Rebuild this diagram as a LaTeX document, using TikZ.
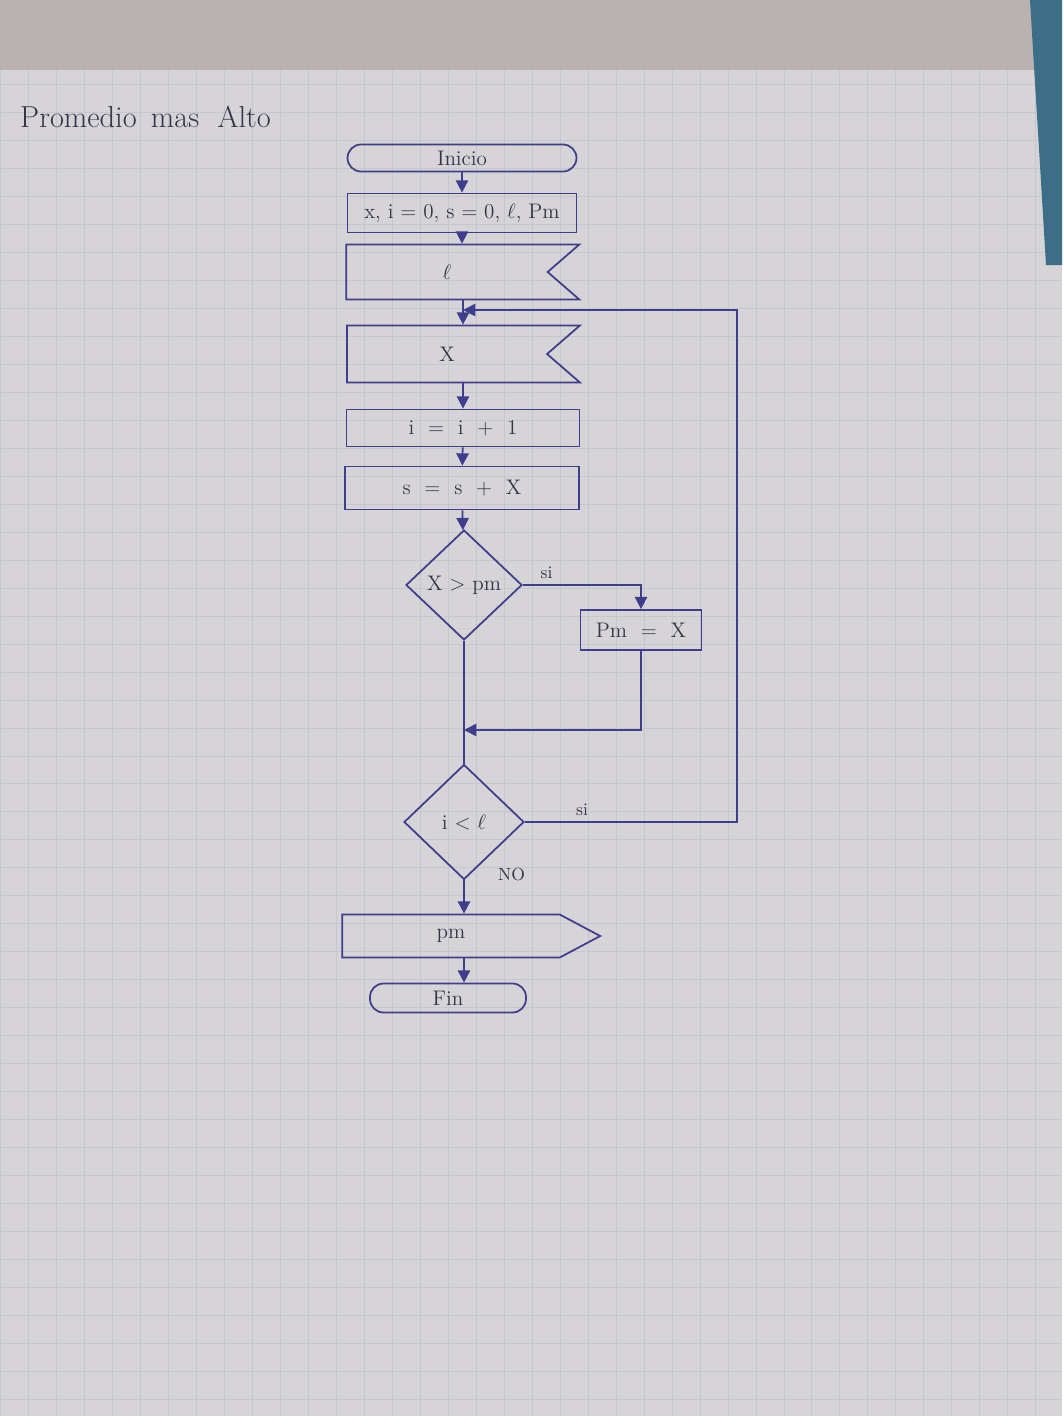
\documentclass[tikz,border=0pt]{standalone}
\usepackage{xcolor}
\usepackage{tikz}
\usetikzlibrary{shapes.geometric, arrows.meta, positioning, calc, shapes.symbols}
\usepackage{amsmath}
\definecolor{ink}{RGB}{62, 62, 140}
\definecolor{pencil}{RGB}{52, 52, 72}
\definecolor{paper}{RGB}{214, 212, 214}
\definecolor{papertop}{RGB}{186, 177, 177}
\definecolor{gridcolor}{RGB}{198, 198, 208}
\definecolor{deskblue}{RGB}{60, 110, 135}

\begin{document}
\begin{tikzpicture}[
    x=0.02cm, y=-0.02cm,
    terminal/.style={draw=ink, line width=1pt, rounded corners=0.27cm, text=pencil, font=\large, inner sep=0pt},
    process/.style={draw=ink, line width=1pt, rectangle, text=pencil, font=\large, inner sep=0pt},
    inputbox/.style={draw=ink, line width=1pt, signal, signal to=nowhere, signal from=east, signal pointer angle=82, text=pencil, font=\large, inner sep=0pt},
    outputbox/.style={draw=ink, line width=1pt, signal, signal to=east, signal from=nowhere, signal pointer angle=56, text=pencil, font=\large, inner sep=0pt},
    decision/.style={draw=ink, line width=1pt, diamond, text=pencil, font=\large, inner sep=0pt},
    label/.style={text=pencil, font=\normalsize},
    arrow/.style={-{Triangle[length=7pt, width=7pt]}, line width=1pt, ink},
    line/.style={line width=1pt, ink}
]
    % Paper
    \useasboundingbox (0,0) rectangle (1062,1416);
    \fill[paper] (0,0) rectangle (1062,1416);
    \fill[papertop] (0,0) rectangle (1062,70);
    \draw[gridcolor, line width=0.4pt, step=0.56cm] (0,70) grid (1062,1416);
    \fill[deskblue] (1030,0) -- (1062,0) -- (1062,265) -- (1046,265) -- cycle;

    % Title
    \node[text=pencil, font=\LARGE, anchor=west] (title) at (14,117) {Promedio\, mas\ \ Alto};

    % Nodes - main column
    \node[terminal, minimum width=4.58cm, minimum height=0.54cm] (start) at (462,158) {Inicio};
    \node[process, minimum width=4.58cm, minimum height=0.78cm] (init) at (462,213) {x, i = 0, s = 0, $\ell$, Pm};
    \node[inputbox, minimum width=4.66cm, minimum height=1.1cm] (readl) at (447,272) {$\ell$};
    \node[inputbox, minimum width=4.66cm, minimum height=1.14cm] (readx) at (447,354) {X};
    \node[process, minimum width=4.66cm, minimum height=0.74cm] (count) at (463,428) {i \ = \ i \ + \ 1};
    \node[process, minimum width=4.68cm, minimum height=0.86cm] (sum) at (462,488) {s \ = \ s \ + \ X};
    \node[decision, minimum width=2.32cm, minimum height=2.2cm] (test) at (464,585) {X > pm};
    \node[process, minimum width=2.42cm, minimum height=0.8cm] (newpm) at (641,630) {Pm \ = \ X};
    \node[decision, minimum width=2.4cm, minimum height=2.3cm] (again) at (464,822) {i < $\ell$};
    \node[outputbox, minimum width=5.16cm, minimum height=0.86cm] (show) at (451,936) {pm};
    \node[terminal, minimum width=3.12cm, minimum height=0.58cm] (stop) at (448,998) {Fin};

    % Coordinates
    \coordinate (back) at (463,310);
    \coordinate (join) at (464,730);

    % Arrows
    \draw[arrow] (start) -- (init);
    \draw[arrow] (init.south) -- (init.south |- readl.north);
    \draw[arrow] (count.north |- readl.south) -- (count.north |- readx.north);
    \draw[arrow] (count.north |- readx.south) -- (count.north);
    \draw[arrow] (count) -- (sum);
    \draw[arrow] (sum) -- (test);
    \draw[arrow] (test.east) -- node[label, above, pos=0.2] {si} (test.east -| newpm.north) -- (newpm.north);
    \draw[arrow] (newpm.south) |- (join);
    \draw[line] (test.south) -- (again.north);
    \draw[arrow] (again.east) -- node[label, above, pos=0.27] {si} ++(212,0) |- (back);
    \node[label, anchor=west] (no) at ($(again.south)+(28,-6)$) {NO};
    \draw[arrow] (again.south) -- (again.south |- show.north);
    \draw[arrow] (again.south |- show.south) -- (again.south |- stop.north);
\end{tikzpicture}
\end{document}
